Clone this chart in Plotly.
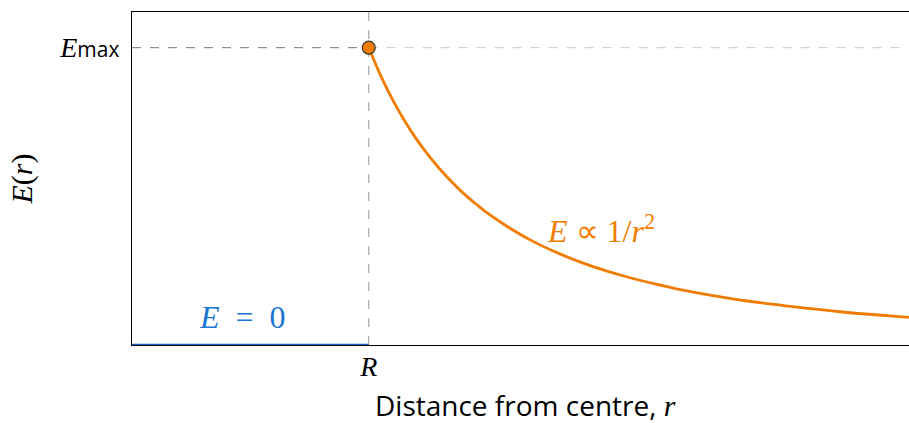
import plotly.graph_objects as go

# ---- data (R = 1, E_max = 1) ----
R = 1.0
E_MAX = 1.0
x_max = 3.32
y_max = 1.12

inside_r = [0.0, 1.0]
inside_E = [0.0, 0.0]

outside_r = [1.0, 1.05, 1.1, 1.15, 1.2, 1.25, 1.3, 1.35, 1.4, 1.45, 1.5, 1.6, 1.7, 1.8, 1.9,
             2.0, 2.1, 2.2, 2.3, 2.4, 2.6, 2.8, 3.0, 3.2, 3.32]
outside_E = [1.0, 0.907, 0.826, 0.756, 0.694, 0.64, 0.592, 0.549, 0.51, 0.476, 0.444, 0.391,
             0.346, 0.309, 0.277, 0.25, 0.227, 0.207, 0.189, 0.174, 0.148, 0.128, 0.111,
             0.098, 0.091]

x_tick_vals = [R]
x_tick_text = ["<i>R</i>"]
y_tick_vals = [E_MAX]
y_tick_text = ["<i>E</i><span style='font-family:Open Sans;font-size:21px'>max</span>"]

ORANGE = "#F07C00"
BLUE = "#0a66c8"
SERIF = "Liberation Serif"

fig = go.Figure()

# dashed guide lines
fig.add_shape(type="line", x0=0, x1=R, y0=E_MAX, y1=E_MAX, xref="x", yref="y",
              line=dict(color="#777777", width=1, dash="dash"), layer="below")
fig.add_shape(type="line", x0=R, x1=x_max, y0=E_MAX, y1=E_MAX, xref="x", yref="y",
              line=dict(color="#cccccc", width=1, dash="dash"), layer="below")
fig.add_shape(type="line", x0=R, x1=R, y0=0, y1=y_max, xref="x", yref="y",
              line=dict(color="#999999", width=1, dash="dash"), layer="below")

fig.add_trace(go.Scatter(x=inside_r, y=inside_E, mode="lines",
                         line=dict(color=BLUE, width=2.5), cliponaxis=False,
                         showlegend=False, hoverinfo="skip"))
fig.add_trace(go.Scatter(x=outside_r, y=outside_E, mode="lines",
                         line=dict(color=ORANGE, width=2.8, shape="spline", smoothing=1.0),
                         showlegend=False, hoverinfo="skip"))
fig.add_trace(go.Scatter(x=[R], y=[E_MAX], mode="markers",
                         marker=dict(color=ORANGE, size=13, line=dict(color="#333333", width=1.2)),
                         cliponaxis=False, showlegend=False, hoverinfo="skip"))

fig.add_annotation(x=0.468, y=0.095, xref="x", yref="y", text="<i>E</i>  =  0",
                   showarrow=False, font=dict(family=SERIF, size=32, color="#1976D2"))
fig.add_annotation(x=1.98, y=0.39, xref="x", yref="y", text="<i>E</i> ∝ 1/<i>r</i><sup>2</sup>",
                   showarrow=False, font=dict(family=SERIF, size=32, color=ORANGE))

fig.add_annotation(x=-0.14, y=0.5, xref="paper", yref="paper", text="<i>E</i>(<i>r</i>)",
                   textangle=-90, showarrow=False, xanchor="center", yanchor="middle",
                   font=dict(family=SERIF, size=30, color="black"))
fig.add_annotation(x=0.5, y=-0.18, xref="paper", yref="paper",
                   text="Distance from centre, <span style='font-family:Liberation Serif;font-size:30px'><i>r</i></span>",
                   showarrow=False, xanchor="center", yanchor="middle",
                   font=dict(family="Open Sans", size=28, color="black"))

fig.update_layout(
    width=918, height=423,
    margin=dict(l=132, r=0, t=12, b=78),
    plot_bgcolor="white", paper_bgcolor="white",
    xaxis=dict(range=[0, x_max], showgrid=False, zeroline=False,
               showline=True, linecolor="black", linewidth=1, mirror=True,
               layer="below traces",
               tickvals=x_tick_vals, ticktext=x_tick_text, ticks="",
               ticklabelstandoff=-4,
               tickfont=dict(family=SERIF, size=28, color="black")),
    yaxis=dict(range=[0, y_max], showgrid=False, zeroline=False,
               showline=True, linecolor="black", linewidth=1, mirror=False,
               layer="below traces",
               tickvals=y_tick_vals, ticktext=y_tick_text, ticks="",
               ticklabelstandoff=6,
               tickfont=dict(family=SERIF, size=28, color="black")),
)

fig.write_html(
    "out.html",
    config={"displayModeBar": False},
    post_script="document.body.style.margin='0';document.body.style.overflow='hidden';",
)
